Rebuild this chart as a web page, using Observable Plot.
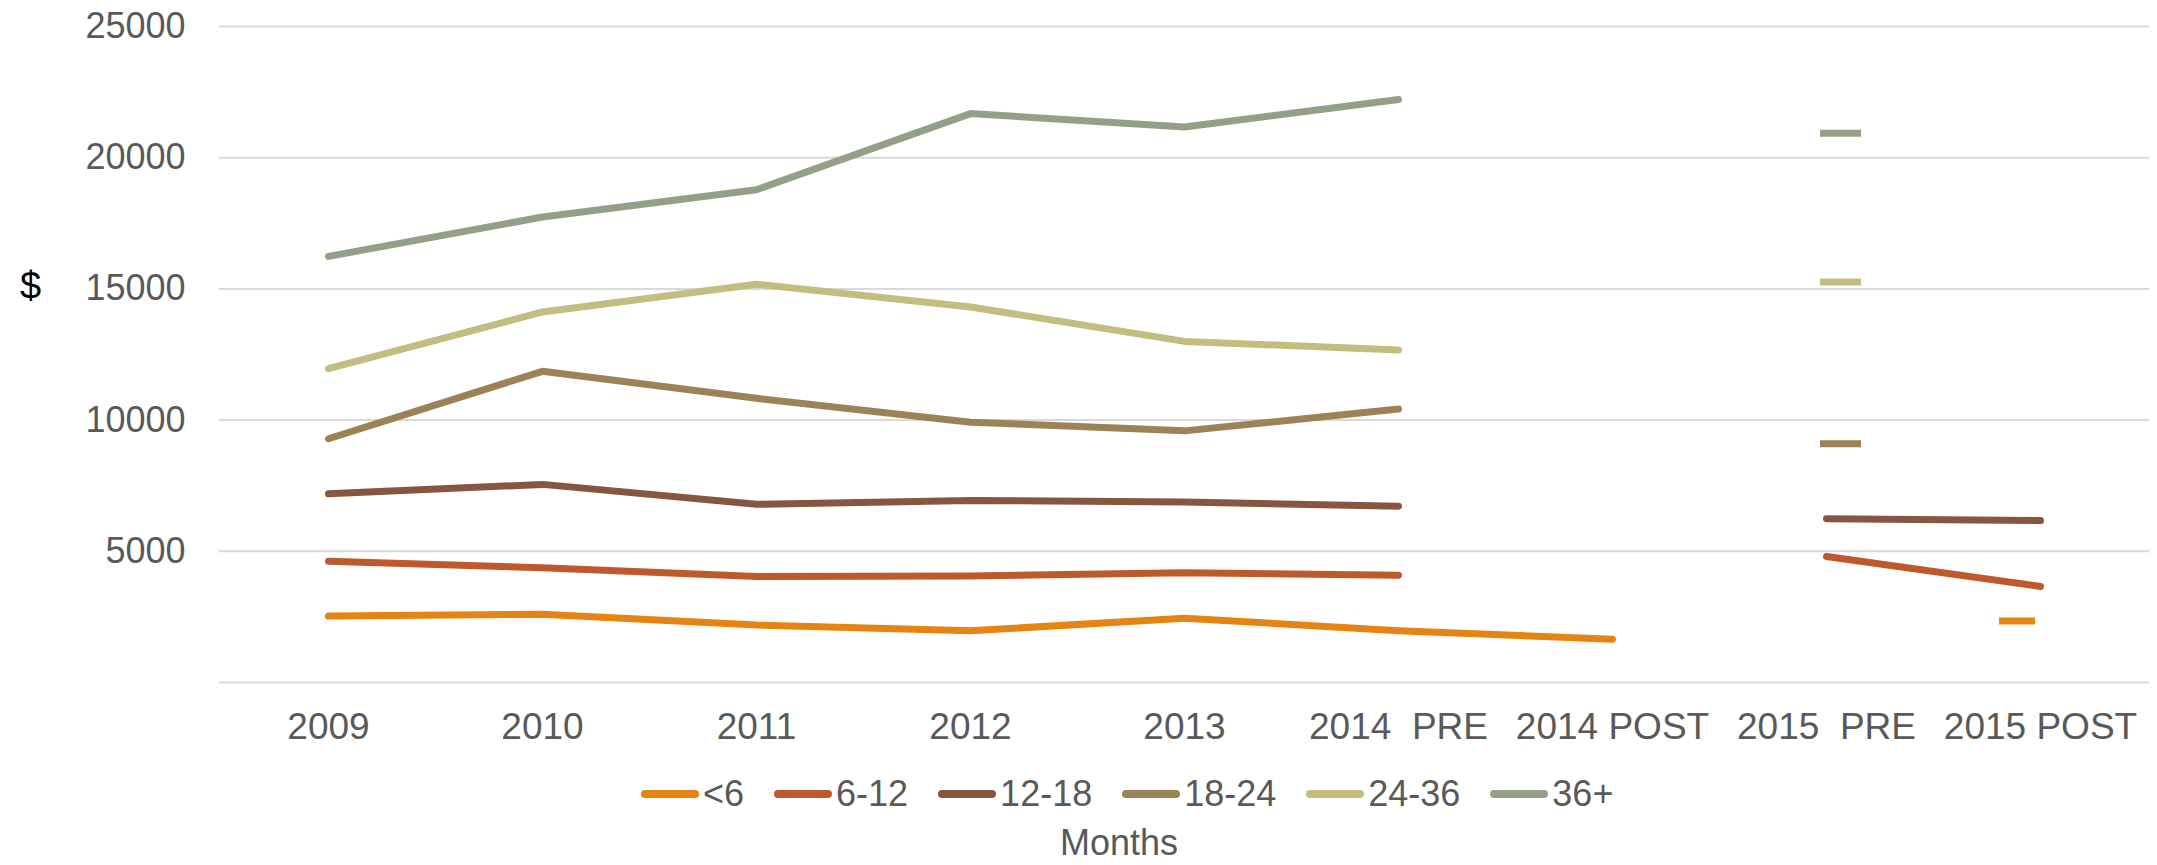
<!DOCTYPE html>
<html>
<head>
<meta charset="utf-8">
<script src="https://cdn.jsdelivr.net/npm/d3@7"></script>
<script src="https://cdn.jsdelivr.net/npm/@observablehq/plot@0.6"></script>
<style>
  body { margin: 0; background: #fff; }
  #wrap { position: relative; width: 2157px; height: 865px; font-family: "Liberation Sans", Arial, sans-serif; color: #595959; }
  #legend { position: absolute; left: 641px; top: 773px; height: 42px; display: flex; align-items: center; font-size: 36px; line-height: 42px; white-space: nowrap; }
  .item { display: flex; align-items: center; margin-right: 30px; }
  .item svg { margin-right: 4px; }
  #months { position: absolute; left: 0; width: 2238px; top: 822px; text-align: center; font-size: 36px; line-height: 42px; }
</style>
</head>
<body>
<div id="wrap">
  <div id="chart"></div>
  <div id="legend"></div>
  <div id="months">Months</div>
</div>
<script>
const categories = ["2009", "2010", "2011", "2012", "2013", "2014\u00a0 PRE", "2014 POST", "2015\u00a0 PRE", "2015 POST"];
const seriesNames = ["<6", "6-12", "12-18", "18-24", "24-36", "36+"];
const seriesColors = ["#E58412", "#BF582C", "#875640", "#9C8357", "#C3BD80", "#939F87"];
const under6  = [2530, 2600, 2190, 1970, 2450, 1970, 1650, null, 2340];
const m6_12   = [4620, 4370, 4040, 4060, 4180, 4090, null, 4800, 3660];
const m12_18  = [7190, 7550, 6790, 6940, 6880, 6720, null, 6240, 6170];
const m18_24  = [9290, 11860, 10830, 9920, 9590, 10420, null, 9100, null];
const m24_36  = [11960, 14120, 15180, 14310, 13000, 12670, null, 15260, null];
const m36plus = [16240, 17740, 18780, 21680, 21170, 22220, null, 20930, null];
const yTicks = [5000, 10000, 15000, 20000, 25000];
const gridTicks = [0, 5000, 10000, 15000, 20000, 25000];

const allValues = [under6, m6_12, m12_18, m18_24, m24_36, m36plus];
const rows = seriesNames.flatMap((s, si) =>
  categories.map((c, i) => {
    const v = allValues[si];
    const value = v[i];
    const iso = value != null && v[i - 1] == null && v[i + 1] == null;
    return {series: s, cat: c, idx: i, value, iso};
  }));
const lineRows = rows.map(d => ({...d, lineValue: d.iso ? null : d.value}));
const isolated = rows.filter(d => d.iso);
const isoInner = isolated.filter(d => d.idx < categories.length - 1);
const isoLast = isolated.filter(d => d.idx === categories.length - 1);

const chart = Plot.plot({
  width: 2157,
  height: 760,
  marginLeft: 219,
  marginRight: 8,
  marginTop: 26,
  marginBottom: 78,
  style: {fontFamily: "'Liberation Sans', Arial, sans-serif", fontSize: "36px", color: "#595959", background: "#fff"},
  x: {type: "band", domain: categories, padding: 0},
  y: {domain: [0, 25000]},
  color: {domain: seriesNames, range: seriesColors},
  marks: [
    Plot.gridY(gridTicks, {stroke: "#d9d9d9", strokeOpacity: 1, strokeWidth: 2}),
    Plot.axisY(yTicks, {tickSize: 0, tickPadding: 34, tickFormat: d => String(d), label: null, fill: "#595959"}),
    Plot.axisX({tickSize: 0, tickPadding: 30, label: null, fill: "#595959", fontSize: 37}),
    Plot.text(["$"], {frameAnchor: "left", textAnchor: "middle", dx: -189, dy: -68, fill: "#000", fontSize: 38}),
    Plot.lineY(lineRows, {x: "cat", y: "lineValue", z: "series", stroke: "series", strokeWidth: 7, strokeLinecap: "round", strokeLinejoin: "round"}),
    Plot.tickY(isoInner, {x: "cat", y: "value", stroke: "series", strokeWidth: 7, insetLeft: 101, insetRight: 72}),
    Plot.tickY(isoLast, {x: "cat", y: "value", stroke: "series", strokeWidth: 7, insetLeft: 66, insetRight: 112})
  ]
});
document.getElementById("chart").appendChild(chart);

const legend = document.getElementById("legend");
seriesNames.forEach((s, i) => {
  const item = document.createElement("div");
  item.className = "item";
  item.innerHTML = `<svg width="58" height="12"><line x1="4" y1="6" x2="54" y2="6" stroke="${seriesColors[i]}" stroke-width="8" stroke-linecap="round"/></svg><span></span>`;
  item.querySelector("span").textContent = s;
  legend.appendChild(item);
});
</script>
</body>
</html>
